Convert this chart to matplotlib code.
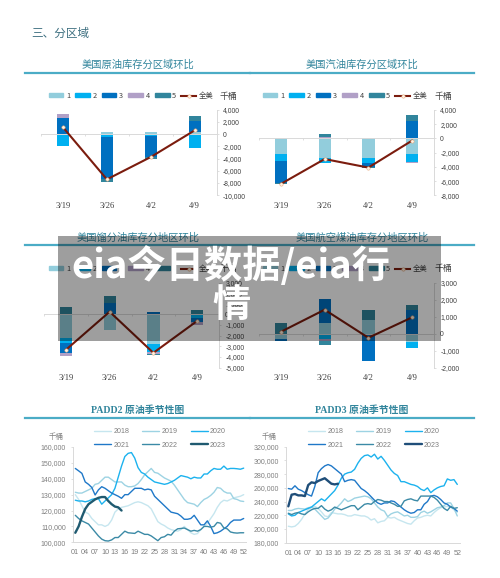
import numpy as np
import matplotlib
matplotlib.use("Agg")
import matplotlib.pyplot as plt
from matplotlib.patches import Rectangle, Patch
from matplotlib.lines import Line2D
from matplotlib.ticker import FuncFormatter

plt.rcParams['font.family'] = ['Noto Sans CJK SC', 'DejaVu Sans']
plt.rcParams['axes.unicode_minus'] = False

W, H = 500, 578
categories = ['3/19', '3/26', '4/2', '4/9']
region_names = ['1', '2', '3', '4', '5']
region_colors = ['#92cddc', '#00b0f0', '#0070c0', '#b1a0c7', '#31859c']

crude_regions = [[0, 350, 350, 300], [-2000, -500, -400, -2300], [2600, -6800, -3400, 1900], [600, 0, 0, 0], [0, -500, -300, 700]]
crude_total = [1100, -7400, -3750, 600]
gasoline_regions = [[-2200, -2800, -2700, -2200], [-1000, -600, -800, -1100], [-3000, 0, -500, 2400], [0, 200, 0, -100], [-200, 400, -100, 850]]
gasoline_total = [-6400, -2900, -4100, -300]
distillate_regions = [[-2250, -1500, -2800, 0], [-400, 0, -750, -350], [-1000, 1100, 200, -400], [-300, 0, -200, -280], [650, 600, -100, 400]]
distillate_total = [-3340, 250, -3620, -620]
jet_regions = [[-300, 630, 800, -500], [0, -300, 0, -330], [-150, 1370, -1630, 1400], [0, -150, 0, 0], [600, -200, 600, 300]]
jet_total = [100, 1400, -250, 950]

years = ['2018', '2019', '2020', '2021', '2022', '2023']
padd2_colors = ['#c6e6ef', '#9dd3e3', '#1cb2ee', '#1f78c8', '#3b8aa6', '#1f5a70']
padd3_colors = ['#c6e6ef', '#9dd3e3', '#1cb2ee', '#1f78c8', '#3b8aa6', '#1f4e79']

padd2_2018 = [130, 127, 123, 119, 118, 115, 113, 111, 111, 110,
              111, 114, 119, 121, 122, 122.5, 123, 124, 125, 125.5,
              125, 124, 123, 121, 117, 113, 111.5, 110.5, 109, 108,
              107.5, 107, 108, 110, 108, 106, 105, 105.5, 108, 110,
              112, 115, 118, 122, 125, 126.5, 126, 127, 128, 128.5, 129, 130]
padd2_2019 = [131.5, 131, 131, 132, 133, 134, 136.5, 137, 139, 141,
              141, 139.5, 138, 138, 138, 136, 135, 135, 135.5, 137,
              139.5, 142.5, 144.5, 146.5, 144, 143.5, 142, 140.5, 139.5, 138.5,
              136, 133, 130, 127, 125, 124.5, 124, 122.5, 125, 127,
              128, 129.5, 131.5, 134.5, 134, 132, 131, 131, 127.5, 127, 126, 125.7]
padd2_2020 = [126.5, 126, 126, 125.5, 126, 127, 127.5, 127.5, 124, 126,
              128, 130, 134, 141, 148, 154, 156, 156.5, 153, 147,
              144, 143, 141, 139.5, 138, 137.5, 137, 136.5, 137, 138,
              139, 140.5, 142, 141.5, 141, 140, 141, 140.5, 140.5, 143,
              143, 145, 146.5, 146, 146, 148, 146, 146.5, 146.5, 146.3, 146, 146.7]
padd2_2021 = [146.5, 145, 143.4, 138, 136.5, 134.5, 129.8, 133, 135, 134,
              132.5, 131, 130, 129, 127.7, 130, 130, 132, 134, 134,
              134, 133, 133.5, 133, 129, 127, 125, 123, 121, 119,
              118.5, 118, 116.5, 114.5, 114.5, 115, 117, 114, 111, 111,
              113.5, 110, 105.5, 106, 107, 108.5, 110, 112.5, 114, 114, 114, 115]
padd2_2022 = [117, 115, 113.5, 112.5, 111.5, 109, 106.5, 104, 102, 101,
              100.8, 101.5, 103, 103, 105, 107, 106, 105.8, 105.6, 107,
              106, 105, 105, 104, 102.5, 101, 103, 103.5, 105, 104.5,
              107, 108.5, 108.7, 109, 108, 107, 107.5, 107, 108, 110,
              110, 109.5, 110, 112.5, 112, 109, 108.5, 106.5, 106, 105.8, 106, 106]
padd2_2023 = [106, 110, 116, 121, 124, 125.5, 127, 128, 128.5, 128.5, 126, 124, 122.5, 122, 120]

padd3_2018 = [204, 203, 204, 208, 214, 222, 228, 231, 233, 230,
              225, 219, 218, 224, 223, 222, 222, 221, 219, 219,
              221, 220, 219, 219, 217, 213, 215, 209, 211, 212,
              217, 216, 217, 214, 212, 210, 208, 207, 212, 216,
              217, 219, 220, 219, 224, 228, 231, 232, 233, 232, 228, 224]
padd3_2019 = [227, 227, 229, 230, 229.5, 229, 231, 232, 229, 224,
              219, 214, 216, 222, 229, 233, 238, 244, 240, 242,
              245, 246, 247, 248, 247, 244, 238, 232, 228, 226,
              218, 222, 224, 225, 222, 219, 220, 217, 217, 218,
              224, 226, 223, 225, 228, 231, 232, 234, 238, 238, 230, 219]
padd3_2020 = [222, 219, 220, 224, 226, 228, 230, 232, 236, 240,
              244, 241, 246, 251, 256, 264, 274, 280, 282, 283,
              287, 296, 303, 307, 308, 305, 309, 302, 306, 300,
              293, 286, 281, 278, 269, 269, 267, 265, 264, 262,
              258, 256, 260, 253, 257, 260, 262, 263, 273, 271, 272, 265]
padd3_2021 = [259, 258, 263, 258, 256, 253, 250, 248, 262, 282,
              288, 292, 294, 292, 288, 284, 280, 269, 271, 272,
              271, 265, 259, 256, 252, 247, 242, 238, 236, 238,
              238, 241, 240, 236, 232, 228, 225, 223, 224, 228,
              228, 236, 240, 248, 249, 247, 243, 238, 236, 232, 230, 226]
padd3_2022 = [223, 221, 223, 224, 222, 221, 225, 228, 230, 230,
              234, 229, 226, 228, 232, 230, 228, 230, 232, 234,
              234, 228, 232, 236, 237, 236, 240, 243, 242, 240,
              240, 238, 236, 233, 233, 241, 243, 244, 242, 241,
              248, 248, 248, 248, 246, 242, 236, 230, 227, 233, 230, 231]
padd3_2023 = [233, 250, 251, 249, 249, 248, 264, 268, 267, 270, 272, 274, 270, 266, 265, 266]

padd2_series = [padd2_2018, padd2_2019, padd2_2020, padd2_2021, padd2_2022, padd2_2023]
padd3_series = [padd3_2018, padd3_2019, padd3_2020, padd3_2021, padd3_2022, padd3_2023]

TITLE = '#31859c'
RULE = '#4bacc6'
GRAY = '#d9d9d9'
LATIN_SANS = 'Liberation Sans'
LATIN_SERIF = 'Liberation Serif'

fig = plt.figure(figsize=(W / 100, H / 100), dpi=100, facecolor='white')


def axes_px(left, top, right, bottom):
    return fig.add_axes([left / W, 1 - bottom / H, (right - left) / W, (bottom - top) / H])


def text_px(x, y, s, **kw):
    kw.setdefault('ha', 'center')
    kw.setdefault('va', 'center')
    return fig.text(x / W, 1 - y / H, s, **kw)


def heading(cx, y, rule_left, rule_right, s, rule_gap=8, **kw):
    kw.setdefault('fontsize', 7.4)
    text_px(cx, y, s, color=TITLE, **kw)
    rule_y = y + rule_gap
    fig.add_artist(Line2D([rule_left / W, rule_right / W], [1 - rule_y / H] * 2,
                          color=RULE, lw=1.6, transform=fig.transFigure))


def bar_panel(box, ylim, yticks, regions, total, legend_cx, legend_y, unit_x):
    ax = axes_px(*box)
    x = np.arange(len(categories))
    pos = np.zeros(len(categories))
    neg = np.zeros(len(categories))
    for vals, color in zip(regions, region_colors):
        vals = np.array(vals, dtype=float)
        bottoms = np.where(vals >= 0, pos, neg)
        ax.bar(x, vals, 0.28, bottom=bottoms, color=color, zorder=2)
        pos += np.clip(vals, 0, None)
        neg += np.clip(vals, None, 0)
    ax.plot(x, total, color='#7b1c0e', lw=1.5, marker='o', ms=2.4,
            mfc='#fff3e6', mec='#e8a878', mew=0.4, zorder=3)
    ax.set_xlim(-0.5, len(categories) - 0.5)
    ax.set_ylim(*ylim)
    for s in ['left', 'top']:
        ax.spines[s].set_visible(False)
    ax.spines['right'].set_color(GRAY)
    ax.spines['right'].set_linewidth(0.7)
    ax.spines['bottom'].set_position(('data', 0))
    ax.spines['bottom'].set_color(GRAY)
    ax.spines['bottom'].set_linewidth(0.7)
    ax.set_xticks(x - 0.5)
    ax.set_xticklabels([])
    ax.tick_params(axis='x', length=1.5, color=GRAY, width=0.6, direction='out')
    ax.yaxis.tick_right()
    ax.set_yticks(yticks)
    ax.yaxis.set_major_formatter(FuncFormatter(lambda v, _: f'{int(v):,}'))
    ax.tick_params(axis='y', length=1.5, color=GRAY, width=0.6, pad=3, labelsize=4.9, labelcolor='#404040')
    for t in ax.get_yticklabels():
        t.set_fontfamily(LATIN_SANS)
    sec = ax.secondary_xaxis('bottom')
    sec.set_xticks(x)
    sec.set_xticklabels(categories, fontsize=6.2, color='#404040', fontfamily=LATIN_SERIF)
    sec.tick_params(length=0, pad=4.5)
    sec.spines['bottom'].set_visible(False)
    handles = [Patch(color=c, label=n) for c, n in zip(region_colors, region_names)]
    handles.append(Line2D([0], [0], color='#7b1c0e', lw=1.5, marker='o', ms=2.4,
                          mfc='#fff3e6', mec='#e8a878', mew=0.4, label='全美'))
    ax.legend(handles=handles, ncol=6, frameon=False, loc='center',
              bbox_to_anchor=(legend_cx / W, 1 - legend_y / H), bbox_transform=fig.transFigure,
              fontsize=5.3, handlelength=2.0, handleheight=0.45, handletextpad=0.35,
              columnspacing=0.7, labelcolor='#404040', borderpad=0, borderaxespad=0)
    text_px(unit_x, legend_y, '千桶', fontsize=6.4, color='#404040')
    return ax


def season_panel(box, ylim, yticks, series, colors, legend_cx, unit_x):
    ax = axes_px(*box)
    lines = []
    for i, (vals, c, name) in enumerate(zip(series, colors, years)):
        weeks = np.arange(1, len(vals) + 1)
        lw = 1.7 if name == '2023' else 1.0
        l, = ax.plot(weeks, np.array(vals) * 1000, color=c, lw=lw, label=name, zorder=2 + i, solid_capstyle='round')
        lines.append(l)
    ax.set_xlim(0.3, 52.7)
    ax.set_ylim(*ylim)
    ax.spines['top'].set_visible(False)
    ax.spines['right'].set_visible(False)
    for s in ['left', 'bottom']:
        ax.spines[s].set_color(GRAY)
        ax.spines[s].set_linewidth(0.7)
    wk = np.arange(1, 53, 3)
    ax.set_xticks(wk)
    ax.set_xticklabels([f'{w:02d}' for w in wk])
    ax.set_yticks(yticks)
    ax.yaxis.set_major_formatter(FuncFormatter(lambda v, _: f'{int(v):,}'))
    ax.tick_params(axis='x', length=0, pad=5, labelsize=5.2, labelcolor='#7f7f7f')
    ax.tick_params(axis='y', length=1.5, color=GRAY, width=0.6, pad=3.5, labelsize=5.0, labelcolor='#7f7f7f')
    for t in ax.get_xticklabels() + ax.get_yticklabels():
        t.set_fontfamily(LATIN_SANS)
    order = [0, 3, 1, 4, 2, 5]
    leg = ax.legend([lines[i] for i in order], [years[i] for i in order], ncol=3, frameon=False, loc='center',
                    bbox_to_anchor=(legend_cx / W, 1 - 438.5 / H), bbox_transform=fig.transFigure,
                    fontsize=5.1, handlelength=2.4, handletextpad=0.3, columnspacing=1.85,
                    labelspacing=0.95, labelcolor='#7f7f7f', borderpad=0, borderaxespad=0)
    for t in leg.get_texts():
        t.set_fontfamily(LATIN_SANS)
    text_px(unit_x, 437, '千桶', fontsize=5.4, color='#7f7f7f')
    return ax


text_px(31, 33, '三、分区域', ha='left', fontsize=8.4, color='#3d6f80')

heading(138, 65, 25, 250, '美国原油库存分区域环比')
heading(362, 65, 250, 474, '美国汽油库存分区域环比')
heading(138, 238, 25, 250, '美国馏分油库存分地区环比', rule_gap=7)
heading(362, 238, 250, 474, '美国航空煤油库存分地区环比', rule_gap=7)
heading(138, 410, 25, 250, 'PADD2 原油季节性图', fontsize=7.1, fontweight='bold',
        fontfamily=[LATIN_SERIF, 'Noto Sans CJK SC'])
heading(362, 410, 250, 474, 'PADD3 原油季节性图', fontsize=7.1, fontweight='bold',
        fontfamily=[LATIN_SERIF, 'Noto Sans CJK SC'])

bar_panel((41, 109.5, 216.7, 195.3), (-10000, 4000), np.arange(-10000, 4001, 2000),
          crude_regions, crude_total, 131, 96, 228)
bar_panel((259, 110, 434, 195.3), (-8000, 4000), np.arange(-8000, 4001, 2000),
          gasoline_regions, gasoline_total, 345, 96, 443)
bar_panel((44, 282.5, 219, 367.5), (-5000, 3000), np.arange(-5000, 3001, 1000),
          distillate_regions, distillate_total, 131, 269, 228)
bar_panel((259, 282.5, 434, 367.5), (-2000, 3000), np.arange(-2000, 3001, 1000),
          jet_regions, jet_total, 345, 269, 443)

season_panel((73, 447, 246, 542.3), (100000, 160000), np.arange(100000, 160001, 10000),
             padd2_series, padd2_colors, 160, 56)
season_panel((286, 446.7, 459.6, 542.7), (180000, 320000), np.arange(180000, 320001, 20000),
             padd3_series, padd3_colors, 374, 269)

fig.add_artist(Rectangle((58 / W, 1 - 341 / H), (441 - 58) / W, (341 - 236) / H,
                         transform=fig.transFigure, facecolor='black', alpha=0.38, edgecolor='none', zorder=50))
text_px(231, 286, 'eia今日数据/eia行\n情', fontsize=27.5, fontweight='bold', color='white',
        linespacing=1.0, zorder=51)

fig.savefig('out.png', dpi=100)
